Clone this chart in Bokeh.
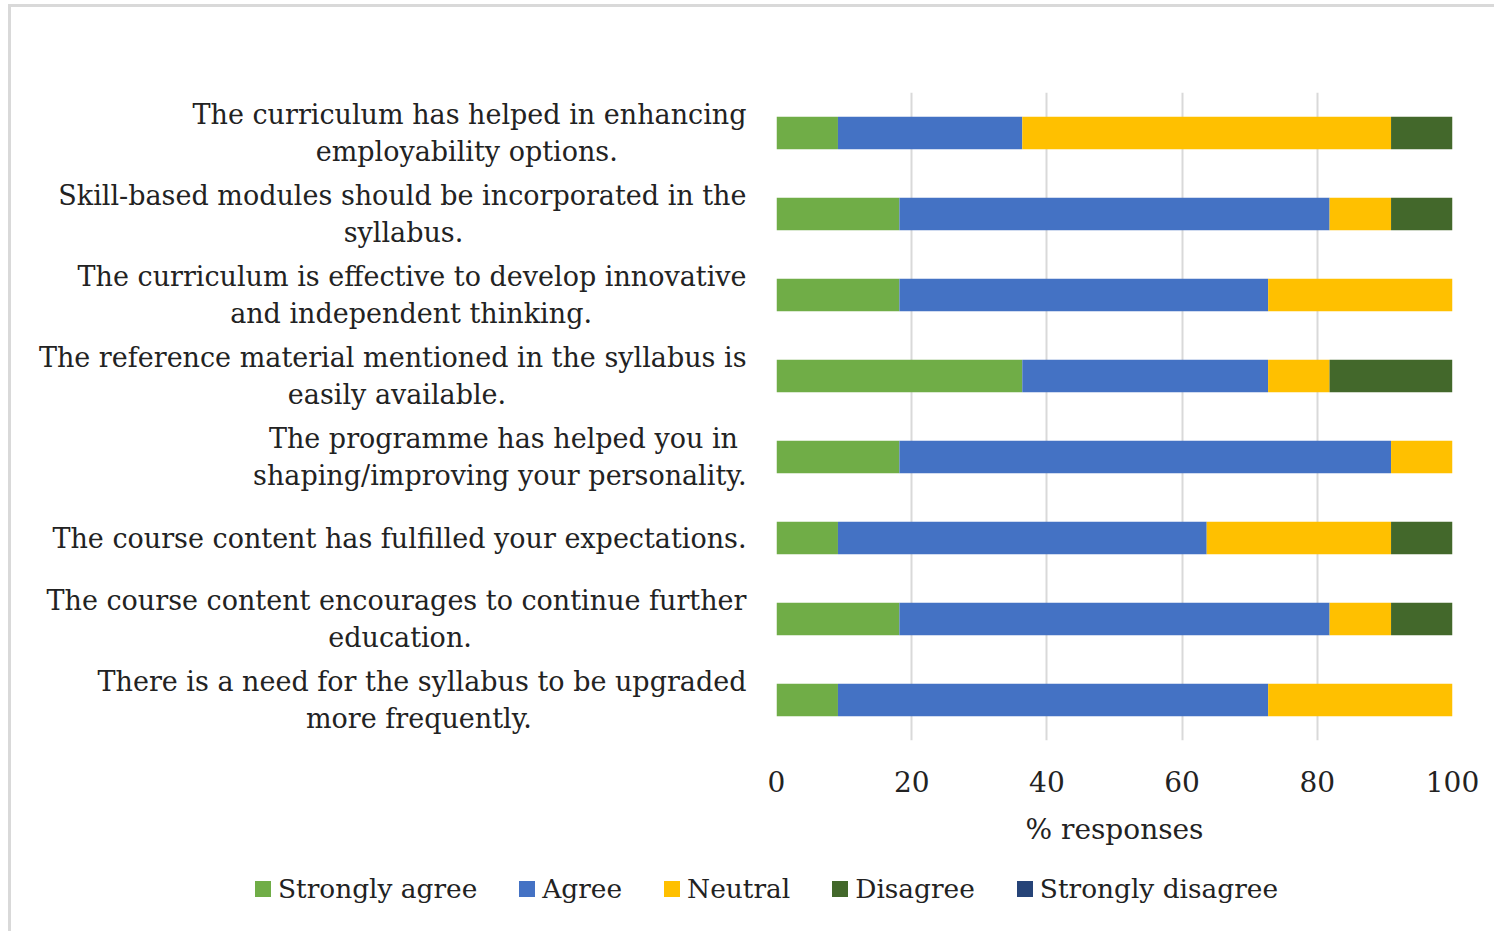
from bokeh.plotting import figure
from bokeh.models import ColumnDataSource, FactorRange, Div
from bokeh.layouts import column
from bokeh.embed import file_html
from bokeh.resources import INLINE

statements = [
    "The curriculum has helped in enhancing\nemployability options.",
    "Skill-based modules should be incorporated in the\nsyllabus.",
    "The curriculum is effective to develop innovative\nand independent thinking.",
    "The reference material mentioned in the syllabus is\neasily available.",
    "The programme has helped you in\nshaping/improving your personality.",
    "The course content has fulfilled your expectations.",
    "The course content encourages to continue further\neducation.",
    "There is a need for the syllabus to be upgraded\nmore frequently.",
]
strongly_agree = [9.09, 18.18, 18.18, 36.36, 18.18, 9.09, 18.18, 9.09]
agree = [27.27, 63.64, 54.55, 36.36, 72.73, 54.55, 63.64, 63.64]
neutral = [54.55, 9.09, 27.27, 9.09, 9.09, 27.27, 9.09, 27.27]
disagree = [9.09, 9.09, 0.0, 18.18, 0.0, 9.09, 9.09, 0.0]
strongly_disagree = [0.0, 0.0, 0.0, 0.0, 0.0, 0.0, 0.0, 0.0]
series_names = ["Strongly agree", "Agree", "Neutral", "Disagree", "Strongly disagree"]
colors = ["#70AD47", "#4472C4", "#FFC000", "#43682B", "#264478"]
x_ticks = [0, 20, 40, 60, 80, 100]

# styling: non-breaking-space padding so that the two lines of a label look centred
pad_first = [0, 0, 0, 0, 1, 0, 0, 0]
pad_second = [15, 33, 18, 28, 0, 0, 32, 25]

FONT = "DejaVu Serif"
TXT = "#222222"
NB = "\u00a0"


def display(label, p1, p2):
    parts = label.split("\n")
    if len(parts) == 1:
        return label
    return parts[0] + NB * p1 + "\n" + parts[1] + NB * p2


factors = [display(s, a, b) for s, a, b in zip(statements, pad_first, pad_second)]

source = ColumnDataSource(dict(
    cat=factors,
    **{"Strongly agree": strongly_agree, "Agree": agree, "Neutral": neutral,
       "Disagree": disagree, "Strongly disagree": strongly_disagree}))

p = figure(width=1480, height=848, output_backend="svg", toolbar_location=None,
           y_range=FactorRange(factors=list(reversed(factors))),
           x_range=(0, 100),
           min_border_left=765, min_border_right=39, min_border_top=85, min_border_bottom=115)
p.outline_line_color = None

p.hbar_stack(series_names, y="cat", height=0.4, color=colors, source=source, line_color=None)

p.xgrid.grid_line_color = "#d9d9d9"
p.xgrid.grid_line_width = 2
p.ygrid.grid_line_color = None
p.xaxis.ticker = x_ticks
p.xaxis.axis_line_color = None
p.xaxis.major_tick_line_color = None
p.xaxis.minor_tick_line_color = None
p.xaxis.major_tick_out = 0
p.xaxis.major_label_standoff = 30
p.xaxis.major_label_text_font = FONT
p.xaxis.major_label_text_font_size = "28px"
p.xaxis.major_label_text_color = TXT
p.xaxis.axis_label = "% responses"
p.xaxis.axis_label_text_font = FONT
p.xaxis.axis_label_text_font_size = "28px"
p.xaxis.axis_label_text_font_style = "normal"
p.xaxis.axis_label_text_color = TXT
p.xaxis.axis_label_standoff = 18

p.yaxis.axis_line_color = None
p.yaxis.major_tick_line_color = None
p.yaxis.minor_tick_line_color = None
p.yaxis.major_tick_out = 0
p.yaxis.major_label_standoff = 30
p.yaxis.major_label_text_font = FONT
p.yaxis.major_label_text_font_size = "27px"
p.yaxis.major_label_text_color = TXT

# legend strip below the chart
item_html = "".join(
    f'<span style="display:inline-block;width:16px;height:16px;background:{c};'
    f'margin-right:7px;flex:none"></span>'
    f'<span style="margin-right:42px;white-space:nowrap">{n}</span>'
    for n, c in zip(series_names, colors))
legend_div = Div(
    text=f'<div style="display:flex;align-items:center;height:58px;padding-left:239px;'
         f'font-family:\'{FONT}\';font-size:26.4px;color:{TXT}">{item_html}</div>',
    width=1480, height=70)

layout = column(p, legend_div, spacing=0)
layout.styles = {"border-top": "3px solid #d9d9d9", "border-left": "3px solid #d9d9d9",
                 "margin-left": "8px", "margin-top": "4px"}

open("out.html", "w").write(file_html(layout, INLINE))
